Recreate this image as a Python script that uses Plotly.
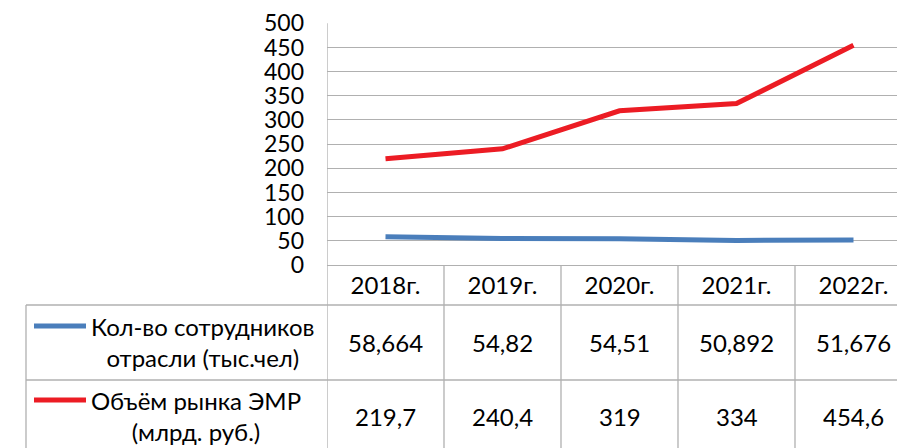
import plotly.graph_objects as go

categories = ["2018г.", "2019г.", "2020г.", "2021г.", "2022г."]
employees = [58.664, 54.82, 54.51, 50.892, 51.676]
employees_text = ["58,664", "54,82", "54,51", "50,892", "51,676"]
market = [219.7, 240.4, 319, 334, 454.6]
market_text = ["219,7", "240,4", "319", "334", "454,6"]
series_names = ["Кол-во сотрудников<br>отрасли (тыс.чел)", "Объём рынка ЭМР<br>(млрд. руб.)"]
series_colors = ["#4a7ebb", "#ec1c24"]
y_ticks = [0, 50, 100, 150, 200, 250, 300, 350, 400, 450, 500]

W, H = 897, 448
FONT = "Lato, Carlito, Calibri, sans-serif"
GRID = "#b0b0b0"
FS = 24

def py(p):
    return 1 - p / H

def px(p):
    return p / W

x_idx = list(range(len(categories)))
fig = go.Figure()
for vals, name, col in [(employees, series_names[0], series_colors[0]),
                        (market, series_names[1], series_colors[1])]:
    fig.add_trace(go.Scatter(x=x_idx, y=vals, mode="lines", name=name,
                             line=dict(color=col, width=5), showlegend=False))

shapes = []
line = dict(color=GRID, width=1.3)
shapes.append(dict(type="line", xref="x", yref="paper", x0=-0.5, x1=-0.5,
                   y0=py(23.3), y1=0, line=line))
for i in range(len(categories) - 1):
    shapes.append(dict(type="line", xref="x", yref="paper", x0=i + 0.5, x1=i + 0.5,
                       y0=py(265), y1=0, line=line))
for yy in [305, 380]:
    shapes.append(dict(type="line", xref="paper", yref="paper", x0=px(26), x1=1,
                       y0=py(yy), y1=py(yy), line=line))
shapes.append(dict(type="line", xref="paper", yref="paper", x0=px(26), x1=px(26),
                   y0=py(305), y1=0, line=line))

annotations = []
row_centers = [342.5, 416.5]
legend_line_y = [326, 400]
legend_text_y = [342, 416]
for r, (texts, name, col) in enumerate([(employees_text, series_names[0], series_colors[0]),
                                        (market_text, series_names[1], series_colors[1])]):
    for i, t in enumerate(texts):
        annotations.append(dict(x=i, y=py(row_centers[r]), xref="x", yref="paper", text=t,
                                showarrow=False, font=dict(family=FONT, size=FS, color="#000"),
                                xanchor="center", yanchor="middle"))
    shapes.append(dict(type="line", xref="paper", yref="paper", x0=px(34), x1=px(86),
                       y0=py(legend_line_y[r]), y1=py(legend_line_y[r]),
                       line=dict(color=col, width=5)))
    annotations.append(dict(x=px(89), y=py(legend_text_y[r]), xref="paper", yref="paper",
                            text=name, showarrow=False, align="center",
                            font=dict(family=FONT, size=FS, color="#000"),
                            xanchor="left", yanchor="middle"))

fig.update_layout(
    width=W, height=H,
    margin=dict(l=0, r=0, t=0, b=0, autoexpand=False),
    paper_bgcolor="white", plot_bgcolor="white",
    font=dict(family=FONT, color="#000"),
    shapes=shapes, annotations=annotations,
    xaxis=dict(domain=[px(327), 1], range=[-0.5, -0.5 + 570 / 117], automargin=False,
               tickvals=x_idx, ticktext=categories, showgrid=False, zeroline=False,
               showline=False, ticks="", tickfont=dict(family=FONT, size=FS, color="#000"),
               ticklabelstandoff=4, fixedrange=True),
    yaxis=dict(domain=[py(265), py(23.3)], range=[0, 500], tickvals=y_ticks, automargin=False,
               showgrid=True, gridcolor=GRID, gridwidth=1.3, zeroline=True,
               zerolinecolor=GRID, zerolinewidth=1.3, showline=False, ticks="",
               tickfont=dict(family=FONT, size=23, color="#000"),
               ticklabelstandoff=22, fixedrange=True),
)

fig.write_html("out.html", config={"displayModeBar": False},
               post_script="document.body.style.margin='0';document.body.style.overflow='hidden';")
